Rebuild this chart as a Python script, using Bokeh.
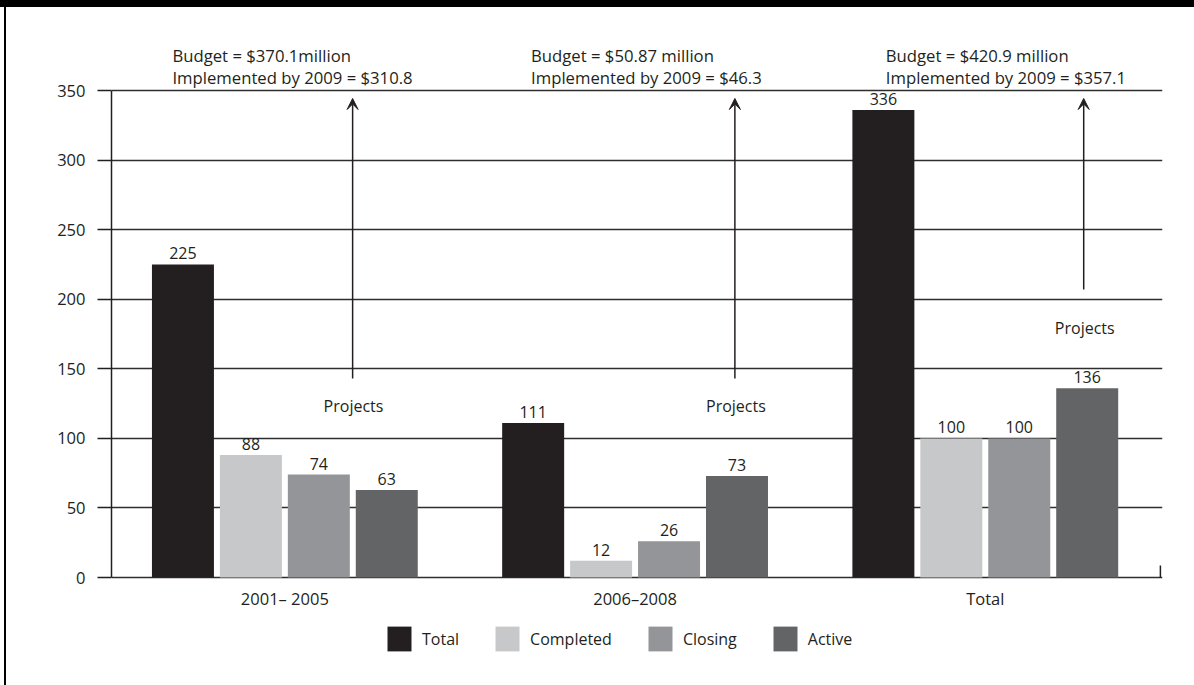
from bokeh.plotting import figure
from bokeh.models import (ColumnDataSource, LabelSet, Label, Arrow, VeeHead, Legend, LegendItem,
                          FixedTicker, Range1d, Div)
from bokeh.layouts import column, row
from bokeh.core.properties import value
from bokeh.embed import file_html
from bokeh.resources import INLINE

# ---- data ----
groups = ["2001\u2013 2005", "2006\u20132008", "Total"]
series = ["Total", "Completed", "Closing", "Active"]
total = [225, 111, 336]
completed = [88, 12, 100]
closing = [74, 26, 100]
active = [63, 73, 136]
colors = ["#231f20", "#c7c8ca", "#939598", "#636466"]
budget_lines = ["Budget = $370.1million", "Budget = $50.87 million", "Budget = $420.9 million"]
impl_lines = ["Implemented by 2009 = $310.8", "Implemented by 2009 = $46.3", "Implemented by 2009 = $357.1"]
y_ticks = [0, 50, 100, 150, 200, 250, 300, 350]

FONT = "Open Sans"
FS = "16px"
TXT = "#231f20"

# figure occupies page x 6..1194, y 7..685 (top band + left strip drawn by Divs)
p = figure(width=1188, height=678, output_backend="svg", toolbar_location=None,
           x_range=Range1d(0.505, 3.506), y_range=Range1d(-77.6, 409.7))
p.min_border = 0
p.min_border_left = 105
p.min_border_right = 32
p.min_border_top = 0
p.min_border_bottom = 0
p.outline_line_color = None
p.background_fill_color = "white"
p.border_fill_color = "white"

xs = [1, 2, 3]
step = 0.194
width = 0.177
all_vals = [total, completed, closing, active]
renderers = []
for i, (name, vals, col) in enumerate(zip(series, all_vals, colors)):
    off = (i - 1.5) * step
    src = ColumnDataSource(dict(x=[x + off for x in xs], top=vals, lab=[str(v) for v in vals]))
    r = p.vbar(x="x", top="top", bottom=0, width=width, source=src, fill_color=col, line_color=None)
    renderers.append(r)
    p.add_layout(LabelSet(x="x", y="top", text="lab", source=src, text_align="center",
                          text_baseline="alphabetic", y_offset=5, text_font=value(FONT),
                          text_font_size=FS, text_color=TXT))

# x axis hidden; category labels drawn as text below the zero line
p.xaxis.visible = False
cat_src = ColumnDataSource(dict(x=xs, y=[-19.4] * 3, t=groups))
p.add_layout(LabelSet(x="x", y="y", text="t", source=cat_src, text_align="center",
                      text_baseline="alphabetic", text_font=value(FONT), text_font_size="16.5px",
                      text_color=TXT))
# small tick at right end of the axis
p.segment(x0=[3.5], y0=[0], x1=[3.5], y1=[8.6], line_color=TXT, line_width=1.5)

p.yaxis.ticker = FixedTicker(ticks=y_ticks)
p.yaxis.bounds = (0, 350)
p.yaxis.major_tick_in = 0
p.yaxis.major_tick_out = 14
p.yaxis.minor_tick_line_color = None
p.yaxis.major_tick_line_color = TXT
p.yaxis.major_tick_line_width = 1.5
p.yaxis.axis_line_color = TXT
p.yaxis.axis_line_width = 1.5
p.yaxis.major_label_standoff = 12
p.yaxis.major_label_text_font = FONT
p.yaxis.major_label_text_font_size = "16.5px"
p.yaxis.major_label_text_color = TXT

p.xgrid.grid_line_color = None
p.ygrid.ticker = FixedTicker(ticks=y_ticks)
p.ygrid.grid_line_color = "#2e2e2e"
p.ygrid.grid_line_width = 1.5
p.ygrid.level = "underlay"

# annotations: budgets
bx = [0.679, 1.703, 2.716]
for x, b, im in zip(bx, budget_lines, impl_lines):
    p.add_layout(Label(x=x, y=375.3, text=b, text_font=FONT, text_font_size="16.7px",
                       text_color=TXT, text_baseline="alphabetic"))
    p.add_layout(Label(x=x, y=359.6, text=im, text_font=FONT, text_font_size="16.7px",
                       text_color=TXT, text_baseline="alphabetic"))

# arrows & "Projects"
ax = [1.1935, 2.285, 3.281]
ay0 = [143, 143, 207]
px_ = [1.196, 2.288, 3.284]
py_ = [123.6, 123.6, 179.7]
for x, y0, lx, ly in zip(ax, ay0, px_, py_):
    p.add_layout(Arrow(end=VeeHead(size=11, fill_color=TXT, line_color=TXT, line_width=1),
                       x_start=x, y_start=y0, x_end=x, y_end=344.3,
                       line_color=TXT, line_width=1.5))
    p.add_layout(Label(x=lx, y=ly, text="Projects", text_font=FONT, text_font_size=FS,
                       text_color=TXT, text_align="center", text_baseline="alphabetic"))

# legend inside the (extended) frame, below the zero line
legend = Legend(items=[LegendItem(label=s, renderers=[r]) for s, r in zip(series, renderers)],
                orientation="horizontal", location=(273, 31),
                glyph_width=30, glyph_height=31, label_standoff=8, spacing=33,
                label_text_font=FONT, label_text_font_size=FS, label_text_color=TXT,
                border_line_color=None, background_fill_alpha=0, padding=0, margin=0)
p.add_layout(legend, "center")

top_band = Div(text="", width=1194, height=7, margin=0, styles={"background-color": "black"})
left_strip = Div(text="", width=6, height=678, margin=0,
                 styles={"background": "linear-gradient(to right, white 0px, white 4px, black 4px, black 6px)"})
layout = column(top_band, row(left_strip, p, spacing=0), spacing=0)

open("out.html", "w").write(file_html(layout, INLINE))
